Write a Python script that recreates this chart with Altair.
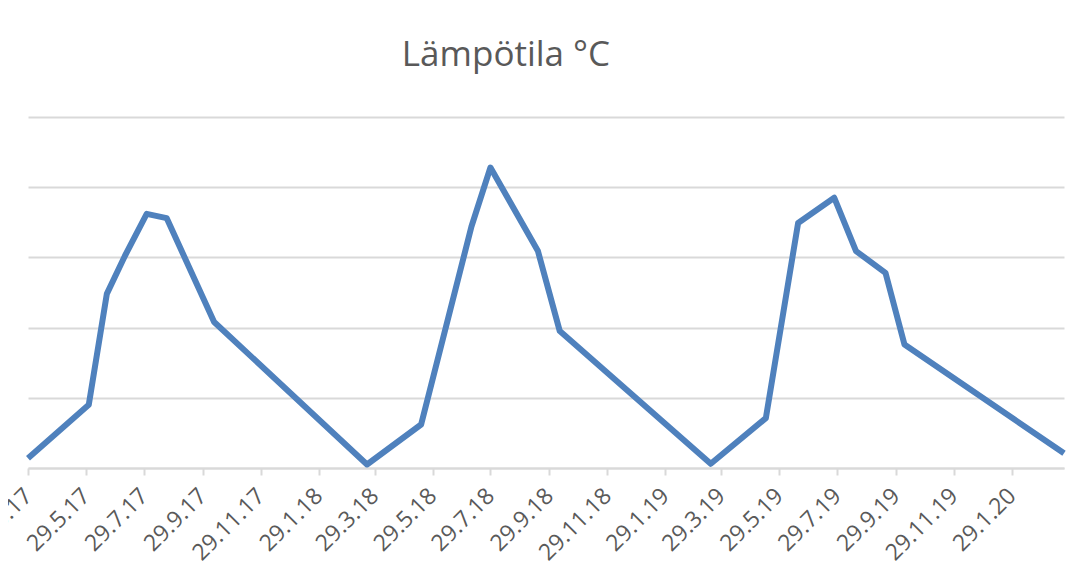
import altair as alt
import pandas as pd

DATES = [
    "2017-03-29", "2017-06-01", "2017-06-20", "2017-07-09", "2017-08-01",
    "2017-08-22", "2017-10-11", "2018-03-21", "2018-05-17", "2018-07-09",
    "2018-07-29", "2018-09-17", "2018-10-10", "2019-03-18", "2019-05-15",
    "2019-06-18", "2019-07-26", "2019-08-18", "2019-09-18", "2019-10-08",
    "2020-03-24",
]
TEMPS = [
    0.7, 4.5, 12.4, 15.1, 18.1,
    17.8, 10.4, 0.25, 3.1, 17.2,
    21.4, 15.45, 9.75, 0.3, 3.55,
    17.45, 19.25, 15.45, 13.9, 8.8,
    1.05,
]

# x-axis ticks (every second month on the 29th)
TICK_DATES = [
    (2017, 3), (2017, 5), (2017, 7), (2017, 9), (2017, 11),
    (2018, 1), (2018, 3), (2018, 5), (2018, 7), (2018, 9), (2018, 11),
    (2019, 1), (2019, 3), (2019, 5), (2019, 7), (2019, 9), (2019, 11),
    (2020, 1),
]
Y_GRID = [0, 5, 10, 15, 20, 25]

TITLE = "Lämpötila °C"

df = pd.DataFrame({"date": DATES, "temp": TEMPS})

tick_values = [alt.DateTime(year=y, month=m, date=29, utc=True) for y, m in TICK_DATES]

FONT = "Open Sans"
GREY_TEXT = "#595959"
GRID = "#d9d9d9"

chart = (
    alt.Chart(df)
    .mark_line(color="#4F81BD", strokeWidth=6, strokeJoin="round", strokeCap="butt")
    .encode(
        x=alt.X(
            "date:T",
            scale=alt.Scale(
                type="utc",
                domain=[
                    alt.DateTime(year=2017, month=3, date=29, utc=True),
                    alt.DateTime(year=2020, month=3, date=24, utc=True),
                ],
                nice=False,
            ),
            axis=alt.Axis(
                values=tick_values,
                labelExpr="utcFormat(datum.value, '%-d.%-m.%y')",
                labelAngle=315,
                labelAlign="right",
                labelBaseline="middle",
                labelFont=FONT,
                labelFontSize=23,
                labelColor=GREY_TEXT,
                labelPadding=17,
                labelOverlap=False,
                labelBound=False,
                labelFlush=False,
                title=None,
                grid=False,
                domainColor=GRID,
                domainWidth=2,
                tickColor=GRID,
                tickWidth=2,
                tickSize=7,
            ),
        ),
        y=alt.Y(
            "temp:Q",
            scale=alt.Scale(domain=[0, 25], nice=False, zero=True),
            axis=alt.Axis(
                values=Y_GRID,
                labels=False,
                ticks=False,
                domain=False,
                title=None,
                grid=True,
                gridColor=GRID,
                gridWidth=2,
            ),
        ),
    )
    .properties(
        width=1036,
        height=351,
        title=alt.TitleParams(
            text=TITLE,
            font=FONT,
            fontSize=35,
            fontWeight="normal",
            color=GREY_TEXT,
            anchor="middle",
            dx=-40,
            offset=44,
        ),
        autosize=alt.AutoSizeParams(type="none"),
        padding={"left": 20, "top": 109, "right": 15, "bottom": 100},
        background="white",
    )
    .configure_view(stroke=None)
)

chart.save("out.html", embed_options={"renderer": "svg", "actions": False})
